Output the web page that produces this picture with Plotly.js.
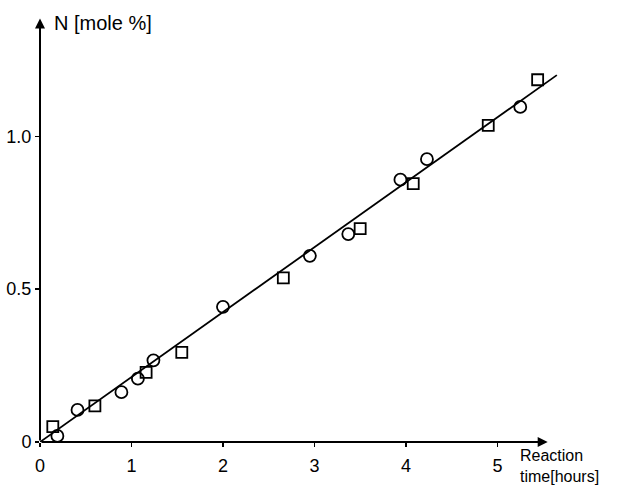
<!DOCTYPE html>
<html>
<head>
<meta charset="utf-8">
<script src="https://cdn.plot.ly/plotly-3.0.1.min.js"></script>
<style>html,body{margin:0;padding:0;background:#fff;}#chart{width:624px;height:490px;}</style>
</head>
<body>
<div id="chart"></div>
<script>
// Data
const circleX = [0.19, 0.41, 0.89, 1.07, 1.24, 2.00, 2.95, 3.37, 3.94, 4.23, 5.25];
const circleY = [0.02, 0.105, 0.163, 0.207, 0.267, 0.442, 0.609, 0.680, 0.858, 0.925, 1.096];
const squareX = [0.14, 0.60, 1.16, 1.55, 2.66, 3.50, 4.08, 4.90, 5.44];
const squareY = [0.05, 0.118, 0.228, 0.293, 0.537, 0.698, 0.845, 1.036, 1.185];
const fitX = [0, 5.65];
const fitY = [0, 1.20];
const xTickVals = [0, 1, 2, 3, 4, 5];
const xTickText = ["0", "1", "2", "3", "4", "5"];
const yTickVals = [0, 0.5, 1.0];
const yTickText = ["0", "0.5", "1.0"];

const FONT = "Liberation Sans, Arial, sans-serif";

const traces = [
  {x: fitX, y: fitY, mode: "lines", line: {color: "#000", width: 1.8}, hoverinfo: "skip", cliponaxis: false},
  {x: circleX, y: circleY, mode: "markers", cliponaxis: false,
   marker: {symbol: "circle-open", size: 12, color: "#000", line: {color: "#000", width: 1.8}}},
  {x: squareX, y: squareY, mode: "markers", cliponaxis: false,
   marker: {symbol: "square-open", size: 11, color: "#000", line: {color: "#000", width: 1.8}}}
];

const layout = {
  width: 624, height: 490,
  margin: {l: 40, r: 58, t: 14, b: 48},
  paper_bgcolor: "#fff", plot_bgcolor: "#fff",
  showlegend: false,
  font: {family: FONT, color: "#000", size: 17},
  xaxis: {range: [0, 5.75], showgrid: false, zeroline: false, showline: false,
          tickvals: xTickVals, ticktext: xTickText, ticks: "outside", ticklen: 4, tickwidth: 1.5,
          tickcolor: "#000", ticklabelstandoff: 3, tickfont: {family: FONT, size: 18}},
  yaxis: {range: [0, 1.40], showgrid: false, zeroline: false, showline: false,
          tickvals: yTickVals, ticktext: yTickText, ticks: "outside", ticklen: 4, tickwidth: 1.5,
          tickcolor: "#000", ticklabelstandoff: 0, tickfont: {family: FONT, size: 18}},
  annotations: [
    {x: 5.55, y: 0, ax: 0, ay: 0, xref: "x", yref: "y", axref: "x", ayref: "y",
     text: "", showarrow: true, arrowhead: 2, arrowsize: 1, arrowwidth: 2, arrowcolor: "#000", standoff: 0},
    {x: 0, y: 1.385, ax: 0, ay: 0, xref: "x", yref: "y", axref: "x", ayref: "y",
     text: "", showarrow: true, arrowhead: 2, arrowsize: 1, arrowwidth: 2, arrowcolor: "#000", standoff: 0},
    {x: 0.13, y: 1.37, xref: "x", yref: "y", xanchor: "left", yanchor: "middle",
     text: "N [mole %]", showarrow: false, font: {family: FONT, size: 20}},
    {x: 5.23, y: 0, xref: "x", yref: "y", xanchor: "left", yanchor: "top", align: "left", yshift: -3,
     text: "Reaction<br>time[hours]", showarrow: false, font: {family: FONT, size: 16}}
  ]
};

Plotly.newPlot("chart", traces, layout, {displayModeBar: false, staticPlot: true});
</script>
</body>
</html>
